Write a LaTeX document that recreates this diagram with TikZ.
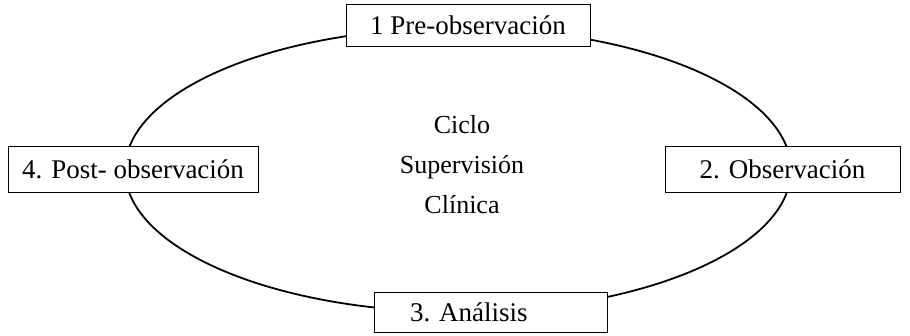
\documentclass[tikz,border=0pt]{standalone}
\usepackage{fontspec}
\setmainfont{Liberation Serif}
\begin{document}
\begin{tikzpicture}[x=1pt,y=-1pt,
  stagebox/.style={draw, line width=1pt, fill=white, inner sep=0pt, font=\fontsize{27}{30}\selectfont},
  ring/.style={line width=1.8pt}]
\useasboundingbox (0,0) rectangle (910,335);
\draw[ring] (458,170) ellipse [x radius=333, y radius=142];
\node[stagebox, minimum width=244pt, minimum height=42pt] (pre) at (468,25) {1 Pre-observación};
\node[stagebox, minimum width=235pt, minimum height=46pt] (obs) at (782.5,169) {2. Observación};
\node[stagebox, minimum width=233pt, minimum height=40pt] (ana) at (490.5,312) {\makebox[233pt][l]{\hspace{36pt}3. Análisis}};
\node[stagebox, minimum width=250pt, minimum height=46pt] (post) at (133,169) {4. Post- observación};
\node[align=center, font=\fontsize{26}{40}\selectfont] (centre) at (462,165) {Ciclo\\Supervisión\\Clínica};
\end{tikzpicture}
\end{document}
